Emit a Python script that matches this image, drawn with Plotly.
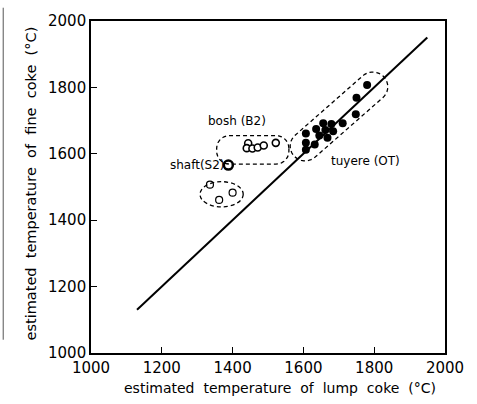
import numpy as np
import plotly.graph_objects as go

# ---- data ----
tuyere_x = [1780, 1750, 1748, 1711, 1679, 1656, 1636, 1662, 1684, 1607, 1645, 1668, 1607, 1632, 1607]
tuyere_y = [1807, 1769, 1719, 1692, 1690, 1692, 1675, 1672, 1668, 1661, 1655, 1648, 1633, 1628, 1612]

bosh_x = [1444, 1440, 1456, 1471, 1488, 1522]
bosh_y = [1632, 1617, 1616, 1619, 1625, 1633]

shaft_bold_x = [1388]
shaft_bold_y = [1566]

shaft_x = [1336, 1400, 1362]
shaft_y = [1507, 1483, 1461]

line_x = [1130, 1950]
line_y = [1130, 1950]

x_ticks = [1000, 1200, 1400, 1600, 1800, 2000]
y_ticks = [1000, 1200, 1400, 1600, 1800, 2000]

# ---- outline helpers (data coords -> approximate pixel space) ----
SX, SY = 0.354, 0.339

def to_px(x, y):
    return np.array([(x - 1000) * SX, (y - 1000) * SY])

def to_data(p):
    return (p[0] / SX + 1000, p[1] / SY + 1000)

def capsule_path(c1, c2, r):
    p1, p2 = to_px(*c1), to_px(*c2)
    d = p2 - p1
    d = d / np.linalg.norm(d)
    a0 = np.arctan2(d[1], d[0])
    pts = []
    for t in np.linspace(a0 - np.pi / 2, a0 + np.pi / 2, 20):
        pts.append(p2 + r * np.array([np.cos(t), np.sin(t)]))
    for t in np.linspace(a0 + np.pi / 2, a0 + 3 * np.pi / 2, 20):
        pts.append(p1 + r * np.array([np.cos(t), np.sin(t)]))
    dd = [to_data(p) for p in pts]
    return "M " + " L ".join(f"{x:.1f},{y:.1f}" for x, y in dd) + " Z"

def roundrect_path(x0, y0, x1, y1, r):
    a, b = to_px(x0, y0), to_px(x1, y1)
    pts = []
    corners = [(b[0] - r, b[1] - r, 0), (a[0] + r, b[1] - r, np.pi / 2),
               (a[0] + r, a[1] + r, np.pi), (b[0] - r, a[1] + r, 3 * np.pi / 2)]
    for cx, cy, s in corners:
        for t in np.linspace(s, s + np.pi / 2, 8):
            pts.append(np.array([cx + r * np.cos(t), cy + r * np.sin(t)]))
    dd = [to_data(p) for p in pts]
    return "M " + " L ".join(f"{x:.1f},{y:.1f}" for x, y in dd) + " Z"

fig = go.Figure()

fig.add_trace(go.Scatter(x=line_x, y=line_y, mode="lines",
                         line=dict(color="black", width=2), hoverinfo="skip"))
fig.add_trace(go.Scatter(x=tuyere_x, y=tuyere_y, mode="markers",
                         marker=dict(size=8, color="black", line=dict(width=0))))
fig.add_trace(go.Scatter(x=bosh_x, y=bosh_y, mode="markers",
                         marker=dict(size=7, color="white", line=dict(color="black", width=1.6))))
fig.add_trace(go.Scatter(x=shaft_bold_x, y=shaft_bold_y, mode="markers",
                         marker=dict(size=9, color="white", line=dict(color="black", width=2.5))))
fig.add_trace(go.Scatter(x=shaft_x, y=shaft_y, mode="markers",
                         marker=dict(size=7, color="white", line=dict(color="black", width=1.2))))

dash = dict(color="black", width=1.3, dash="4px,3px")
fig.add_shape(type="path", path=capsule_path((1605, 1623), (1796, 1802), 15), line=dash)
fig.add_shape(type="path", path=roundrect_path(1355, 1569, 1559, 1655, 13), line=dash)
fig.add_shape(type="circle", x0=1308, x1=1430, y0=1440, y1=1516, line=dash)

font = "DejaVu Sans"
lbl = dict(family=font, size=12, color="black")
fig.add_annotation(x=1412, y=1700, text="bosh (B2)", showarrow=False, font=lbl)
fig.add_annotation(x=1302, y=1565, text="shaft(S2)", showarrow=False, font=lbl)
fig.add_annotation(x=1775, y=1578, text="tuyere (OT)", showarrow=False, font=lbl)

nb = "\u00a0"
xt = f" {nb}".join("estimated temperature of lump coke (°C)".split(" "))
yt = f" {nb}".join("estimated temperature of fine coke (°C)".split(" "))
fig.add_annotation(xref="paper", yref="paper", x=0.534, y=-0.104, yanchor="middle", xanchor="center",
                   text=xt, showarrow=False, font=dict(family=font, size=14, color="black"))
fig.add_annotation(xref="paper", yref="paper", x=-0.17, y=0.51, xanchor="center", yanchor="middle",
                   text=yt, textangle=-90,
                   showarrow=False, font=dict(family=font, size=14.5, color="black"))

axis = dict(showgrid=False, zeroline=False, showline=True, linecolor="black", linewidth=1.6,
            mirror=True, ticks="inside", ticklen=6, tickwidth=1.2, tickcolor="black",
            tickfont=dict(family=font, size=15, color="black"), range=[1000, 2000])
fig.update_xaxes(**axis, tickvals=x_ticks)
fig.update_yaxes(**axis, tickvals=y_ticks)

fig.add_shape(type="line", xref="paper", yref="paper", x0=-0.248, x1=-0.248, y0=1.04, y1=0.04,
              line=dict(color="#555", width=1))

fig.update_layout(width=477, height=404, margin=dict(l=91, r=32, t=12, b=51),
                  paper_bgcolor="white", plot_bgcolor="white", showlegend=False)

fig.write_html("out.html")
